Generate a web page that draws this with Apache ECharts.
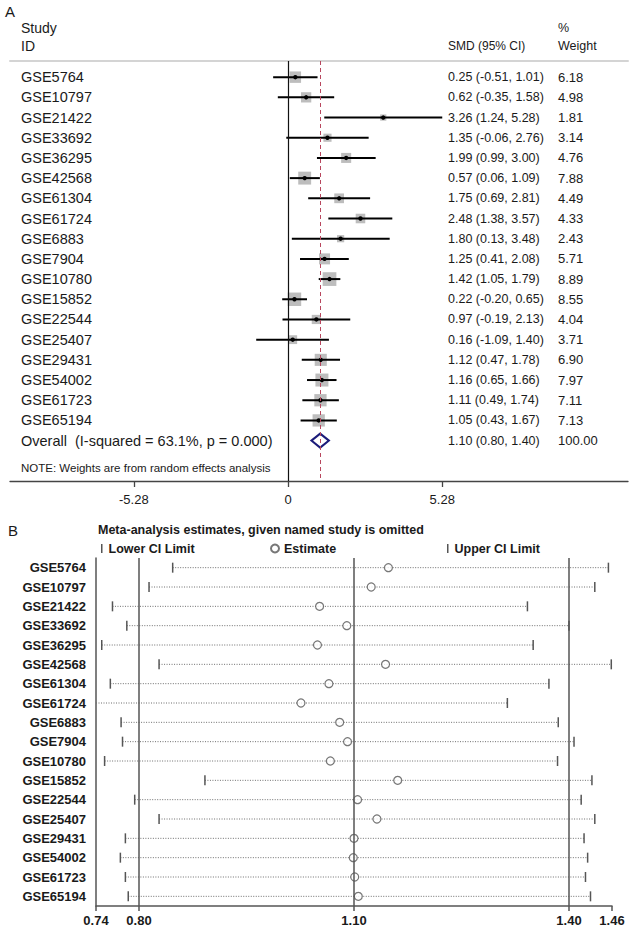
<!DOCTYPE html>
<html><head><meta charset="utf-8">
<script src="https://cdn.jsdelivr.net/npm/echarts@6/dist/echarts.min.js"></script>
<style>html,body{margin:0;padding:0;background:#fff}#c{width:633px;height:930px}</style>
</head><body><div id="c"></div>
<script>
// ---------- Panel A: forest plot data ----------
const studies = ['GSE5764','GSE10797','GSE21422','GSE33692','GSE36295','GSE42568','GSE61304','GSE61724','GSE6883','GSE7904','GSE10780','GSE15852','GSE22544','GSE25407','GSE29431','GSE54002','GSE61723','GSE65194'];
const smd    = [0.25, 0.62, 3.26, 1.35, 1.99, 0.57, 1.75, 2.48, 1.80, 1.25, 1.42, 0.22, 0.97, 0.16, 1.12, 1.16, 1.11, 1.05];
const ciLow  = [-0.51,-0.35, 1.24,-0.06, 0.99, 0.06, 0.69, 1.38, 0.13, 0.41, 1.05,-0.20,-0.19,-1.09, 0.47, 0.65, 0.49, 0.43];
const ciHigh = [1.01, 1.58, 5.28, 2.76, 3.00, 1.09, 2.81, 3.57, 3.48, 2.08, 1.79, 0.65, 2.13, 1.40, 1.78, 1.66, 1.74, 1.67];
const weights= [6.18, 4.98, 1.81, 3.14, 4.76, 7.88, 4.49, 4.33, 2.43, 5.71, 8.89, 8.55, 4.04, 3.71, 6.90, 7.97, 7.11, 7.13];
const overallLabel = 'Overall  (I-squared = 63.1%, p = 0.000)';
const overallSmd = 1.10, overallLow = 0.80, overallHigh = 1.40, overallWeight = 100.00;
const forestTicks = [-5.28, 0, 5.28];

// ---------- Panel B: leave-one-out sensitivity data ----------
const omitLower    = [0.847,0.814,0.763,0.783,0.748,0.828,0.760,0.735,0.775,0.777,0.752,0.892,0.794,0.828,0.781,0.774,0.781,0.785];
const omitEstimate = [1.148,1.124,1.052,1.090,1.049,1.144,1.065,1.026,1.080,1.091,1.067,1.161,1.105,1.132,1.100,1.099,1.101,1.106];
const omitUpper    = [1.455,1.436,1.342,1.400,1.350,1.459,1.372,1.314,1.385,1.407,1.384,1.432,1.417,1.436,1.421,1.426,1.423,1.430];
const sensTicks = [0.74, 0.80, 1.10, 1.40, 1.46];
const sensRefLines = [0.80, 1.10, 1.40];

const FONT = '"Liberation Sans", Arial, sans-serif';
const TXT = '#1a1a1a';
const fmt2 = v => v.toFixed(2);

const chart = echarts.init(document.getElementById('c'), null, {renderer: 'svg'});

const forestData = studies.map((s, i) => [i, smd[i], ciLow[i], ciHigh[i], weights[i]]);
const overallRow = studies.length;

const colStudy = 21, colSmd = 448, colWeight = 558;
const F_LABEL = '14.5px ' + FONT, F_NUM = '12.5px ' + FONT, F_W = '13px ' + FONT;

function txt(x, y, text, font) {
  return {type: 'text', x: x, y: y, style: {text: text, fill: TXT, font: font, verticalAlign: 'middle', align: 'left'}};
}

const option = {
  animation: false,
  backgroundColor: '#fff',
  grid: [
    {left: 10, right: 5, top: 61, bottom: 930 - 481},
    {left: 96, right: 21, top: 558, bottom: 930 - 906}
  ],
  xAxis: [
    {gridIndex: 0, type: 'value', min: -9.52, max: 11.64, position: 'bottom',
     axisLine: {show: true, onZero: false, lineStyle: {color: '#444', width: 1.3}},
     axisTick: {show: true, customValues: forestTicks, length: 6, lineStyle: {color: '#444', width: 1.3}},
     axisLabel: {show: true, customValues: forestTicks, margin: 12, color: TXT, fontSize: 13, fontFamily: FONT,
       formatter: v => v === 0 ? '0' : fmt2(v)},
     splitLine: {show: false}},
    {gridIndex: 0, type: 'value', min: -9.52, max: 11.64, position: 'top',
     axisLine: {show: true, onZero: false, lineStyle: {color: '#d4d4d4', width: 2}},
     axisTick: {show: false}, axisLabel: {show: false}, splitLine: {show: false}},
    {gridIndex: 1, type: 'value', min: 0.74, max: 1.46,
     axisLine: {show: true, onZero: false, lineStyle: {color: '#555', width: 1.5}},
     axisTick: {show: true, customValues: sensTicks, length: 5, lineStyle: {color: '#555', width: 1.5}},
     axisLabel: {show: true, customValues: sensTicks, margin: 8, color: TXT, fontSize: 13, fontWeight: 'bold', fontFamily: FONT,
       formatter: v => fmt2(v)},
     splitLine: {show: false}}
  ],
  yAxis: [
    {gridIndex: 0, type: 'value', inverse: true, min: -0.8, max: 20, show: false},
    {gridIndex: 1, type: 'category', inverse: true, data: studies,
     axisLine: {show: true, lineStyle: {color: '#555', width: 1.5}},
     axisTick: {show: false},
     axisLabel: {margin: 10, color: TXT, fontSize: 13, fontWeight: 'bold', fontFamily: FONT}}
  ],
  legend: [
    {data: [{name: 'Lower CI Limit', icon: 'rect'}], left: 96, top: 537, itemWidth: 1.5, itemHeight: 9, itemGap: 0,
     selectedMode: false, textStyle: {color: TXT, fontSize: 12.5, fontWeight: 'bold', fontFamily: FONT, padding: [0, 0, 0, 1]}},
    {data: [{name: 'Estimate', icon: 'circle'}], left: 265, top: 537, itemWidth: 8, itemHeight: 8, itemGap: 0,
     selectedMode: false, textStyle: {color: TXT, fontSize: 12.5, fontWeight: 'bold', fontFamily: FONT}},
    {data: [{name: 'Upper CI Limit', icon: 'rect'}], left: 442, top: 537, itemWidth: 1.5, itemHeight: 9, itemGap: 0,
     selectedMode: false, textStyle: {color: TXT, fontSize: 12.5, fontWeight: 'bold', fontFamily: FONT, padding: [0, 0, 0, 1]}}
  ],
  graphic: [
    txt(5, 11, 'A', '15px ' + FONT),
    txt(colStudy, 28, 'Study', '14px ' + FONT),
    txt(colStudy, 46, 'ID', '14px ' + FONT),
    txt(colSmd, 46, 'SMD (95% CI)', '12px ' + FONT),
    txt(colWeight, 28, '%', '12.5px ' + FONT),
    txt(colWeight, 46, 'Weight', '12.5px ' + FONT),
    txt(colStudy, 468, 'NOTE: Weights are from random effects analysis', '11.5px ' + FONT),
    txt(8, 530, 'B', '15px ' + FONT),
    txt(98, 530, 'Meta-analysis estimates, given named study is omitted', 'bold 12.5px ' + FONT)
  ],
  series: [
    {type: 'custom', name: 'refA', xAxisIndex: 0, yAxisIndex: 0, z: 1, data: [[0, 0]],
     renderItem: () => null,
     markLine: {silent: true, symbol: 'none', label: {show: false}, animation: false,
       data: [
         {xAxis: 0, lineStyle: {color: '#111', width: 1.2, type: 'solid'}},
         {xAxis: overallSmd, lineStyle: {color: '#b8475e', width: 1, type: [4, 3]}}
       ]}},
    {type: 'custom', name: 'studiesA', xAxisIndex: 0, yAxisIndex: 0, z: 3, clip: false,
     data: forestData,
     renderItem: (params, api) => {
       const i = params.dataIndex;
       const row = api.value(0);
       const pE = api.coord([api.value(1), row]);
       const pL = api.coord([api.value(2), row]);
       const pH = api.coord([api.value(3), row]);
       const side = 4.6 * Math.sqrt(api.value(4));
       return {type: 'group', children: [
         {type: 'rect', shape: {x: pE[0] - side / 2, y: pE[1] - side / 2, width: side, height: side}, style: {fill: '#bdbdbd'}},
         {type: 'line', shape: {x1: pL[0], y1: pL[1], x2: pH[0], y2: pH[1]}, style: {stroke: '#000', lineWidth: 2}},
         {type: 'circle', shape: {cx: pE[0], cy: pE[1], r: 2.2}, style: {fill: '#000'}},
         txt(colStudy, pE[1], studies[i], F_LABEL),
         txt(colSmd, pE[1], fmt2(smd[i]) + ' (' + fmt2(ciLow[i]) + ', ' + fmt2(ciHigh[i]) + ')', F_NUM),
         txt(colWeight, pE[1], fmt2(weights[i]), F_W)
       ]};
     }},
    {type: 'custom', name: 'overallA', xAxisIndex: 0, yAxisIndex: 0, z: 3, clip: false,
     data: [[overallRow, overallSmd, overallLow, overallHigh, overallWeight]],
     renderItem: (params, api) => {
       const row = api.value(0);
       const pE = api.coord([api.value(1), row]);
       const pL = api.coord([api.value(2), row]);
       const pH = api.coord([api.value(3), row]);
       const h = 7;
       return {type: 'group', children: [
         {type: 'polygon', shape: {points: [[pL[0], pL[1]], [pE[0], pE[1] - h], [pH[0], pH[1]], [pE[0], pE[1] + h]]},
          style: {fill: 'none', stroke: '#1c1c7a', lineWidth: 2}},
         txt(colStudy, pE[1], overallLabel, F_LABEL),
         txt(colSmd, pE[1], fmt2(api.value(1)) + ' (' + fmt2(api.value(2)) + ', ' + fmt2(api.value(3)) + ')', F_NUM),
         txt(colWeight, pE[1], fmt2(api.value(4)), F_W)
       ]};
     }},
    {type: 'custom', name: 'refB', xAxisIndex: 2, yAxisIndex: 1, z: 1, data: [[1.1, 0]],
     renderItem: () => null,
     markLine: {silent: true, symbol: 'none', label: {show: false}, animation: false,
       lineStyle: {color: '#555', width: 1.5, type: 'solid'},
       data: sensRefLines.map(v => ({xAxis: v}))}},
    {type: 'custom', name: 'span', xAxisIndex: 2, yAxisIndex: 1, z: 2,
     data: studies.map((s, i) => [omitLower[i], omitUpper[i], i]),
     renderItem: (params, api) => {
       const lo = Math.max(api.value(0), 0.74), hi = Math.min(api.value(1), 1.46);
       const a = api.coord([lo, api.value(2)]), b = api.coord([hi, api.value(2)]);
       return {type: 'line', shape: {x1: a[0], y1: a[1], x2: b[0], y2: b[1]}, style: {stroke: '#6e6e6e', lineWidth: 1, lineDash: [1, 1.5]}};
     }},
    {type: 'custom', name: 'Lower CI Limit', xAxisIndex: 2, yAxisIndex: 1, z: 3,
     itemStyle: {color: '#555'},
     data: studies.map((s, i) => [omitLower[i], i]),
     renderItem: (params, api) => {
       if (api.value(0) < 0.74) return null;
       const p = api.coord([api.value(0), api.value(1)]);
       return {type: 'line', shape: {x1: p[0], y1: p[1] - 5, x2: p[0], y2: p[1] + 5}, style: {stroke: '#555', lineWidth: 1.5}};
     }},
    {type: 'custom', name: 'Upper CI Limit', xAxisIndex: 2, yAxisIndex: 1, z: 3,
     itemStyle: {color: '#555'},
     data: studies.map((s, i) => [omitUpper[i], i]),
     renderItem: (params, api) => {
       if (api.value(0) > 1.46) return null;
       const p = api.coord([api.value(0), api.value(1)]);
       return {type: 'line', shape: {x1: p[0], y1: p[1] - 5, x2: p[0], y2: p[1] + 5}, style: {stroke: '#555', lineWidth: 1.5}};
     }},
    {type: 'scatter', name: 'Estimate', xAxisIndex: 2, yAxisIndex: 1, z: 4,
     symbol: 'circle', symbolSize: 8,
     itemStyle: {color: '#fff', borderColor: '#555', borderWidth: 1.2},
     data: studies.map((s, i) => [omitEstimate[i], i])}
  ]
};
chart.setOption(option);
</script>
</body></html>
